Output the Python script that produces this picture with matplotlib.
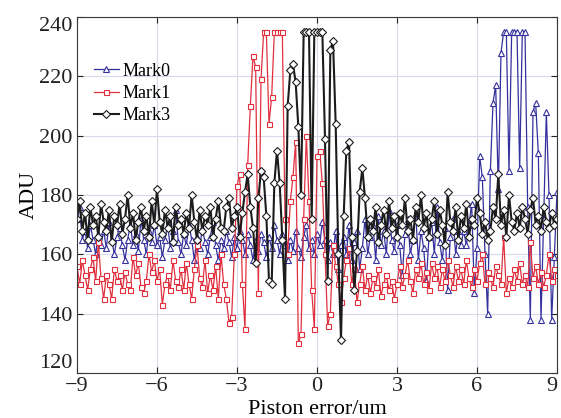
import numpy as np
import matplotlib
matplotlib.use("Agg")
import matplotlib.pyplot as plt

# scan positions (um), step 0.1 from -9 to 9
x = np.linspace(-9, 9, 181)

mark0 = [
    172, 176, 165, 168, 162, 170, 165, 160, 167, 163,
    168, 162, 171, 165, 160, 166, 169, 163, 158, 165,
    170, 163, 167, 161, 172, 165, 160, 168, 164, 170,
    163, 166, 159, 165, 170, 162, 168, 175, 164, 160,
    167, 163, 170, 165, 158, 166, 162, 169, 164, 160,
    166, 171, 163, 158, 165, 162, 168, 164, 159, 166,
    162, 168, 165, 160, 167, 163, 158, 165, 161, 167,
    164, 159, 166, 162, 170, 165, 160, 167, 163, 158,
    165, 161, 168, 162, 159, 166, 170, 162, 165, 160,
    167, 163, 171, 165, 158, 164, 160, 168, 155, 163,
    166, 160, 170, 158, 164, 168, 155, 162, 172, 160,
    166, 170, 158, 173, 163, 168, 160, 175, 165, 161,
    170, 163, 153, 167, 172, 160, 165, 174, 158, 168,
    162, 151, 166, 171, 160, 176, 164, 158, 169, 148,
    166, 172, 160, 168, 163, 168, 163, 170, 177, 147,
    162, 193, 186, 160, 140, 188, 211, 217, 182, 228,
    235, 235, 188, 235, 235, 235, 189, 235, 235, 176,
    138, 208, 211, 194, 138, 172, 208, 180, 138, 159, 181,
]

mark1 = [
    156, 150, 158, 153, 148, 155, 159, 151, 164, 152,
    145, 153, 150, 145, 155, 151, 153, 148, 154, 150,
    148, 159, 153, 157, 149, 147, 151, 160, 154, 158,
    151, 155, 143, 150, 153, 148, 158, 151, 149, 155,
    148, 157, 150, 145, 155, 163, 152, 149, 158, 147,
    153, 148, 156, 145, 160,
    150, 145, 137, 139, 160, 183, 187, 150, 135, 190, 210, 227, 223, 147, 219,
    235, 235, 204, 213, 235, 235, 235, 235, 172, 160,
    178, 186, 198, 130, 133, 172, 200, 178, 148, 135,
    193, 195, 184, 160, 136, 140, 163, 156, 150, 144,
    152, 158, 162, 150, 155, 144, 150, 156, 148, 153,
    147, 152, 149, 155, 146, 150, 153, 148, 151, 145,
    150, 156, 149, 153, 158, 151, 147, 155, 152, 157,
    150, 154, 148, 157, 152, 156, 149, 155, 151, 158,
    153, 149, 156, 151, 155, 150, 158, 152, 149, 155,
    151, 157, 160, 150, 154, 152, 149, 156, 153, 150,
    166, 147, 152, 149, 155, 151, 157, 150, 153, 149,
    164, 152, 156, 150, 154, 149, 153, 160, 151, 155, 153,
]

mark3 = [
    172, 178, 168, 174, 165, 176, 170, 173, 166, 177,
    171, 168, 175, 164, 173, 170, 177, 167, 172, 180,
    169, 174, 165, 171, 176, 168, 173, 166, 178, 170,
    182, 171, 167, 175, 169, 173, 164, 176, 170, 172,
    167, 174, 169, 180, 171, 165, 175, 168, 173, 170,
    176, 166, 172, 178, 169,
    168, 176, 179, 169, 173, 176, 166, 174, 181, 187, 176, 169, 157, 179, 188,
    186, 173, 151, 150, 184, 195, 184, 165, 145, 210,
    222, 224, 218, 203, 180, 235, 235, 235, 172, 235,
    235, 235, 235, 199, 151, 229, 232, 204, 160, 131,
    173, 195, 198, 166, 148, 161, 181, 189, 179, 166,
    172, 168, 176, 164, 170, 175, 167, 178, 169, 173,
    166, 174, 170, 179, 168, 172, 165, 176, 171, 180,
    169, 174, 166, 172, 178, 167, 175, 170, 163, 181,
    171, 168, 176, 165, 173, 169, 177, 166, 172, 170,
    179, 174, 167, 171, 165, 168, 176, 172, 187, 170,
    175, 166, 180, 171, 168, 174, 169, 176, 172, 167,
    175, 179, 170, 173, 168, 176, 171, 169, 174, 170, 172,
]

series_names = ["Mark0", "Mark1", "Mark3"]
xticks = [-9, -6, -3, 0, 3, 6, 9]
yticks = [120, 140, 160, 180, 200, 220, 240]

plt.rcParams["font.family"] = ["Liberation Serif", "DejaVu Serif"]

fig = plt.figure(figsize=(5.61, 4.18), dpi=100)
ax = fig.add_axes([77 / 561, 1 - 373 / 418, 480 / 561, 356 / 418])

styles = [
    dict(color="#34309c", marker="^", lw=0.9),
    dict(color="#e0303e", marker="s", lw=0.9),
    dict(color="#1c1c1c", marker="D", lw=1.5),
]
msizes = [4.2, 3.6, 3.6]
for ys, name, st, ms in zip([mark0, mark1, mark3], series_names, styles, msizes):
    ax.plot(x, ys, color=st["color"], lw=st["lw"], marker=st["marker"],
            markersize=ms, markerfacecolor="white", markeredgecolor=st["color"],
            markeredgewidth=0.8, label=name)

ax.set_xlim(-9, 9)
ax.set_ylim(120, 240)
ax.set_xticks(xticks)
ax.set_yticks(yticks)
ax.grid(True, color="#d9d9ec", lw=0.8)
ax.set_axisbelow(True)
ax.tick_params(direction="in", top=True, right=True, length=4, width=0.8,
               labelsize=16, colors="#222222", pad=3)
for s in ax.spines.values():
    s.set_color("#3a3a3a")
    s.set_linewidth(0.8)

# end labels sit inside the axis range, as in the reference
yt = ax.yaxis.get_major_ticks()
yt[0].label1.set_verticalalignment("bottom")
yt[-1].label1.set_verticalalignment("top")
xt = ax.xaxis.get_major_ticks()
xt[-1].label1.set_horizontalalignment("right")

ax.set_xlabel("Piston error/um", fontsize=16, labelpad=3)
ax.set_ylabel("ADU", fontsize=16, labelpad=0.5)

ax.legend(loc="upper left", bbox_to_anchor=(0.035, 0.872), frameon=False,
          fontsize=13, handlelength=1.4, handletextpad=0.2, labelspacing=0.3,
          borderaxespad=0, borderpad=0)

fig.savefig("out.png", dpi=100)
